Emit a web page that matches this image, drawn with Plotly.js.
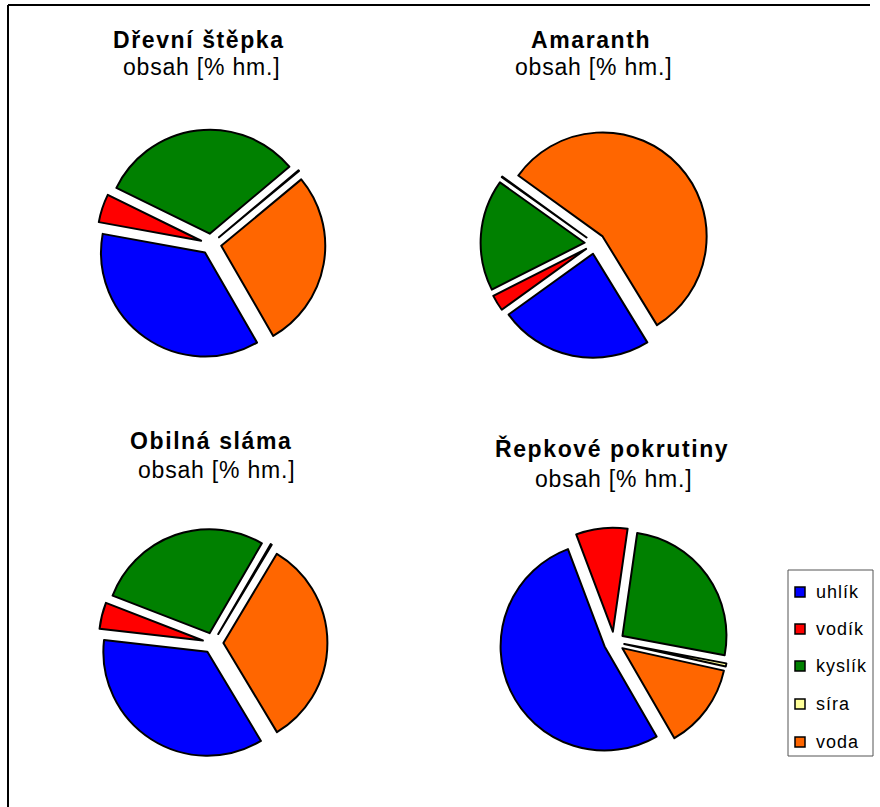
<!DOCTYPE html>
<html><head><meta charset="utf-8">
<script src="https://cdn.plot.ly/plotly-3.0.1.min.js"></script>
<style>body{margin:0;background:#fff}</style>
</head><body><div id="chart" style="width:880px;height:807px"></div>
<script>
// ---- data ----
const labels = ['uhlík', 'vodík', 'kyslík', 'síra', 'voda'];
const titles = ['Dřevní štěpka', 'Amaranth', 'Obilná sláma', 'Řepkové pokrutiny'];
const subtitle = 'obsah [% hm.]';
const drevniStepka = [36.2, 4.4, 31.6, 0.1, 27.7];
const amaranth = [23.8, 2.5, 17.3, 0.1, 56.3];
const obilnaSlama = [35.4, 4.1, 27.5, 0.2, 32.8];
const repkovePokrutiny = [52.6, 8.0, 25.7, 0.5, 13.2];
const seriesValues = [drevniStepka, amaranth, obilnaSlama, repkovePokrutiny];

// ---- styles / layout ----
const colors = ['#0000FF', '#FF0000', '#008000', '#FFFF99', '#FF6600'];
const rotations = [150, 148.5, 149, 150];
const W = 880, H = 807;
const centers = [[211, 244], [595, 243.5], [213, 643], [614, 642]];
const pullFrac = 0.1;
const radius = 104;
const half = radius * (1 + pullFrac);
const titlePos = [[199, 40.5], [591, 40.5], [211, 441], [612, 448.5]];
const subPos = [[201, 67], [593, 67], [216, 469.5], [613, 479]];
const FONT = 'Liberation Sans, Arial, sans-serif';

const px = x => x / W;
const py = y => 1 - y / H;

const data = seriesValues.map((vals, i) => ({
  type: 'pie',
  labels: labels,
  values: vals,
  sort: false,
  direction: 'clockwise',
  rotation: rotations[i],
  pull: vals.map(() => pullFrac),
  textinfo: 'none',
  hoverinfo: 'label+value',
  marker: { colors: colors, line: { color: '#000', width: 2 } },
  domain: {
    x: [px(centers[i][0] - half), px(centers[i][0] + half)],
    y: [py(centers[i][1] + half), py(centers[i][1] - half)]
  },
  showlegend: false
}));

const annotations = [];
titles.forEach((t, i) => {
  annotations.push({
    xref: 'paper', yref: 'paper', x: px(titlePos[i][0]), y: py(titlePos[i][1]),
    xanchor: 'center', yanchor: 'middle', showarrow: false,
    text: '<b><span style="letter-spacing:1.6px">' + t + '</span></b>',
    font: { family: FONT, size: 23, color: '#000' }
  });
  annotations.push({
    xref: 'paper', yref: 'paper', x: px(subPos[i][0]), y: py(subPos[i][1]),
    xanchor: 'center', yanchor: 'middle', showarrow: false,
    text: '<span style="letter-spacing:0.8px">' + subtitle + '</span>',
    font: { family: FONT, size: 23, color: '#000' }
  });
});

// custom legend
const legendBox = { x0: 788, x1: 873, y0: 570, y1: 756 };
const legendRowY = [592, 629, 666, 704, 742];
const shapes = [
  { type: 'line', xref: 'paper', yref: 'paper', x0: px(8), x1: px(8), y0: py(5), y1: py(807), line: { color: '#000', width: 2 } },
  { type: 'line', xref: 'paper', yref: 'paper', x0: px(8), x1: px(870), y0: py(5), y1: py(5), line: { color: '#000', width: 2 } },
  { type: 'rect', xref: 'paper', yref: 'paper', x0: px(legendBox.x0), x1: px(legendBox.x1), y0: py(legendBox.y1), y1: py(legendBox.y0), line: { color: '#555', width: 1 }, fillcolor: '#fff' }
];
labels.forEach((lab, i) => {
  const yc = legendRowY[i];
  shapes.push({ type: 'rect', xref: 'paper', yref: 'paper', x0: px(795), x1: px(805), y0: py(yc + 5), y1: py(yc - 5), line: { color: '#000', width: 1.5 }, fillcolor: colors[i] });
  annotations.push({
    xref: 'paper', yref: 'paper', x: px(814), y: py(yc), xanchor: 'left', yanchor: 'middle', showarrow: false,
    text: '<span style="letter-spacing:1px">' + lab + '</span>',
    font: { family: FONT, size: 18, color: '#000' }
  });
});

const layout = {
  width: W, height: H,
  margin: { l: 0, r: 0, t: 0, b: 0 },
  paper_bgcolor: '#fff',
  showlegend: false,
  annotations: annotations,
  shapes: shapes
};
Plotly.newPlot('chart', data, layout, { displayModeBar: false, staticPlot: true });
</script></body></html>
